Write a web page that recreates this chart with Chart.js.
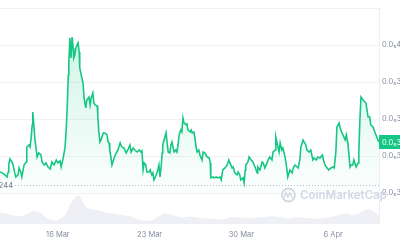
<!DOCTYPE html>
<html>
<head>
<meta charset="utf-8">
<script src="https://cdn.jsdelivr.net/npm/chart.js@4.4.1/dist/chart.umd.min.js"></script>
<style>
  html, body { margin: 0; padding: 0; background: #fff; }
  #wrap { width: 400px; height: 240px; }
</style>
</head>
<body>
<div id="wrap"><canvas id="myChart" width="400" height="240"></canvas></div>
<script>
// price in units of 0.0₅x (x1e-9), hours since 11 Mar 14:00
const hours = [0,4,9,13,15,16,18,22,24,27,29,33,35,38,40,44,48,49,53,55,57,59,60,62,64,66,68,71,75,77,81,84,88,92,95,99,103,106,110,112,115,119,121,123,125,126,128,130,132,134,135,137,139,141,143,145,146,150,152,154,156,157,159,163,165,167,170,172,174,178,179,181,183,185,189,192,196,198,200,201,203,205,209,211,214,216,220,223,227,231,234,238,
  240,244,247,251,255,258,260,262,264,267,269,273,275,278,280,282,286,289,291,293,295,297,298,302,304,306,308,311,313,315,317,319,322,324,326,328,331,333,335,337,341,342,344,348,350,352,355,357,359,361,364,366,370,372,375,379,383,385,386,390,392,396,399,403,405,408,412,416,419,421,425,427,430,434,436,439,441,445,447,449,450,454,456,460,463,
  467,471,472,476,480,482,485,489,491,494,498,500,504,505,507,511,513,516,518,522,525,527,531,535,537,540,544,546,549,551,555,557,560,562,566,569,573,575,579,582,586,590,591,595,599,602,606,610,612,615,617,621,623,626,628,632,634,637,641,643,646,648,652,656,657,659,661,665,668,670,672,674,677,679,683,687,690,692,694];
const price = [3314,3309,3298,3287,3314,3352,3384,3368,3352,3309,3287,3298,3336,3314,3287,3352,3368,3449,3460,3449,3498,3568,3638,3568,3487,3444,3395,3417,3406,3368,3352,3363,3341,3330,3368,3352,3379,3363,3374,3341,3379,3444,3530,3660,3838,3908,4038,3930,4043,3984,3930,3946,3984,4000,4011,3962,3876,3822,3795,3714,3676,3660,3703,3719,3676,3714,3741,3687,3676,3671,3622,3530,3476,3487,3525,3525,3514,3476,3471,3433,3395,3352,3390,3406,3422,3433,3471,3449,3444,3417,3433,3460,
  3422,3444,3433,3422,3433,3422,3428,3325,3363,3352,3314,3314,3325,3298,3309,3271,3298,3325,3352,3287,3341,3417,3460,3503,3525,3471,3422,3417,3460,3476,3444,3422,3433,3422,3460,3514,3541,3530,3606,3579,3568,3579,3541,3530,3541,3525,3530,3498,3449,3422,3433,3406,3379,3422,3417,3395,3390,3363,3282,3287,3282,3287,3282,3287,3271,3325,3336,3352,3379,3363,3336,3341,3309,3298,3314,3298,3271,3282,3255,3325,3352,3368,3395,3379,3368,
  3341,3309,3341,3325,3368,3363,3336,3363,3379,3395,3379,3422,3433,3503,3476,3422,3471,3433,3444,3395,3336,3287,3325,3309,3336,3352,3341,3336,3379,3449,3487,3476,3460,3433,3422,3433,3379,3390,3379,3395,3390,3406,3395,3352,3336,3325,3336,3341,3336,3422,3557,3579,3552,3525,3514,3487,3514,3471,3341,3352,3352,3379,3341,3363,3417,3595,3719,3703,3692,3687,3649,3611,3611,3568,3557,3525,3503,3487,3476];
// volume every 12h
const volume = [220,200,160,140,180,240,220,120,60,80,180,440,560,340,280,260,220,200,180,160,140,80,60,60,120,200,180,140,120,140,120,100,100,80,80,120,120,120,100,120,120,140,140,120,100,120,120,100,100,100,120,140,180,200,160,220,280,240,140];
const yTicks = [3200, 3400, 3600, 3800, 4000, 4200];
const dateTicks = [106, 274, 442, 610];
const dateLabels = ['16 Mar', '23 Mar', '30 Mar', '6 Apr'];
const refPrice = 3244;

const fmt = (v) => '0.0\u2085' + v;

Chart.defaults.font.family = 'Inter, sans-serif';
Chart.defaults.font.size = 7.5;
Chart.defaults.color = '#858ca2';

// extra drawings: dotted start line, price tag, watermark
const extras = {
  id: 'extras',
  afterDatasetsDraw(chart) {
    const { ctx, chartArea, scales } = chart;
    const y = scales.y;
    ctx.save();
    // watermark
    ctx.strokeStyle = '#d3d7e4';
    ctx.lineWidth = 1.8;
    ctx.beginPath();
    ctx.arc(288.5, 195, 6.5, 0, Math.PI * 2);
    ctx.stroke();
    ctx.lineWidth = 1.4;
    ctx.beginPath();
    ctx.moveTo(284, 198);
    ctx.lineTo(286, 192.5);
    ctx.lineTo(288, 197);
    ctx.lineTo(290, 192.5);
    ctx.lineTo(292.5, 198);
    ctx.stroke();
    ctx.fillStyle = '#d3d7e4';
    ctx.font = '600 11.5px Inter, sans-serif';
    ctx.textBaseline = 'middle';
    ctx.textAlign = 'left';
    ctx.fillText('CoinMarketCap', 300, 196);

    // dotted reference line
    const ry = Math.round(y.getPixelForValue(refPrice)) + 0.5;
    ctx.strokeStyle = '#b9beca';
    ctx.lineWidth = 1;
    ctx.setLineDash([1, 2]);
    ctx.beginPath();
    ctx.moveTo(15, ry);
    ctx.lineTo(chartArea.right, ry);
    ctx.stroke();
    ctx.setLineDash([]);
    ctx.fillStyle = '#6f778c';
    ctx.font = '7.5px Inter, sans-serif';
    ctx.textAlign = 'right';
    ctx.fillText(fmt(refPrice), 13, ry);

    // current price tag
    const last = price[price.length - 1];
    const ly = y.getPixelForValue(last);
    ctx.fillStyle = '#16c784';
    ctx.fillRect(chartArea.right, ly - 7, 400 - chartArea.right, 14);
    ctx.fillStyle = '#ffffff';
    ctx.textAlign = 'left';
    ctx.fillText(fmt(last), chartArea.right + 3, ly + 0.5);
    ctx.restore();
  }
};

const ctx = document.getElementById('myChart');
let chart = new Chart(ctx, {
  type: 'line',
  data: {
    datasets: [
      {
        data: hours.map((h, i) => ({ x: h, y: price[i] })),
        borderColor: '#16c784',
        borderWidth: 1.6,
        pointRadius: 0,
        tension: 0,
        fill: { value: 3200 },
        backgroundColor: (c) => {
          const area = c.chart.chartArea;
          if (!area) return 'rgba(22,199,132,0.1)';
          const g = c.chart.ctx.createLinearGradient(0, area.top + 20, 0, 193);
          g.addColorStop(0, 'rgba(22,199,132,0.2)');
          g.addColorStop(1, 'rgba(22,199,132,0.01)');
          return g;
        },
        order: 1,
      },
      {
        data: volume.map((v, i) => ({ x: i * 12, y: v })),
        yAxisID: 'v',
        borderColor: '#eceef4',
        borderWidth: 1,
        backgroundColor: '#eef0f5',
        pointRadius: 0,
        tension: 0.3,
        fill: 'origin',
        order: 2,
      },
    ],
  },
  options: {
    responsive: false,
    animation: false,
    events: [],
    layout: { padding: { top: 8, left: 0, right: 0, bottom: 0 } },
    plugins: { legend: { display: false }, tooltip: { enabled: false } },
    scales: {
      x: {
        type: 'linear',
        min: 0,
        max: 694,
        grid: { display: false, drawTicks: false },
        border: { display: false },
        afterBuildTicks: (s) => { s.ticks = dateTicks.map((v) => ({ value: v })); },
        afterFit: (s) => { s.height = 16; },
        ticks: {
          padding: 6,
          maxRotation: 0,
          autoSkip: false,
          callback: (v) => dateLabels[dateTicks.indexOf(v)],
        },
      },
      y: {
        position: 'right',
        min: 3033,
        max: 4200,
        grid: { color: '#f1f2f4', drawTicks: false },
        border: { display: true, color: '#eceef1' },
        afterBuildTicks: (s) => { s.ticks = yTicks.map((v) => ({ value: v })); },
        afterFit: (s) => { s.width = 21; },
        ticks: {
          padding: 3,
          callback: (v) => (v === 4200 ? '' : fmt(v)),
        },
      },
      v: {
        display: false,
        min: 0,
        max: 4320,
      },
    },
  },
  plugins: [extras],
});
</script>
</body>
</html>
